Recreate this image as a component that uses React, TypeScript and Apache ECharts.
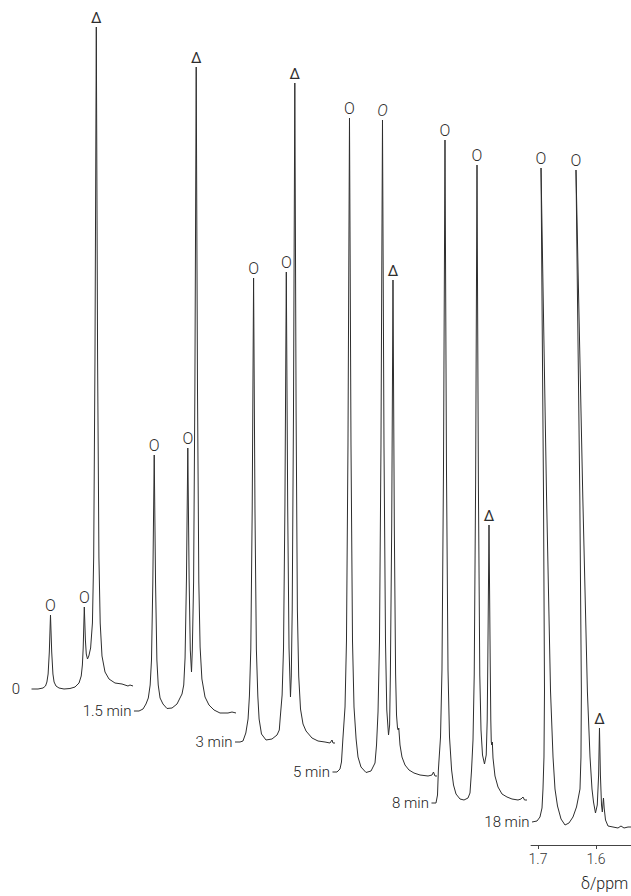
import React, { useEffect, useRef } from 'react';
import * as echarts from 'echarts';

// Reaction time of each stacked 1H NMR trace
const traceNames = ['0', '1.5 min', '3 min', '5 min', '8 min', '18 min'];

// Each trace: [chemical shift δ/ppm, intensity (a.u.)]
const trace0: number[][] = [
  [1.7241, 0], [1.7129, 0], [1.7043, 1], [1.7, 3], [1.6976, 7], [1.6955, 15], [1.6934, 37], [1.6914, 74],
  [1.6893, 37], [1.6872, 15], [1.6852, 7], [1.6819, 3], [1.6767, 1], [1.6681, 0], [1.6578, 0.5], [1.6491, 2],
  [1.6422, 6], [1.6384, 13], [1.6364, 24], [1.635, 41], [1.6331, 82], [1.6312, 49], [1.6297, 35], [1.6276, 30],
  [1.6253, 33], [1.6222, 41], [1.6191, 66], [1.6169, 132], [1.6147, 331], [1.6124, 662], [1.6102, 331],
  [1.6079, 132], [1.6057, 66], [1.6026, 33], [1.5974, 17], [1.5905, 10], [1.5802, 6], [1.5681, 5], [1.5578, 3],
  [1.5543, 4], [1.5491, 3],
];

const trace15: number[][] = [
  [1.7259, 0], [1.7172, 0], [1.7103, 2], [1.7052, 7], [1.7012, 13], [1.698, 26], [1.6957, 51], [1.6934, 128],
  [1.691, 256], [1.6887, 128], [1.6864, 51], [1.6841, 26], [1.6809, 13], [1.6759, 7], [1.669, 2.5], [1.6603, 3],
  [1.6517, 7], [1.6457, 14], [1.6431, 17], [1.6401, 26], [1.6378, 53], [1.6354, 132], [1.6331, 263],
  [1.6308, 132], [1.6288, 61], [1.6267, 39], [1.6253, 61], [1.6231, 129], [1.6209, 322], [1.6186, 644],
  [1.6164, 322], [1.6141, 129], [1.6119, 64], [1.6088, 32], [1.6034, 14], [1.5966, 6], [1.5879, 1],
  [1.5776, -2], [1.5638, -2], [1.5569, -1], [1.55, -2],
];

const trace3: number[][] = [
  [1.7234, 0], [1.7148, 0], [1.7097, 1], [1.7048, 9], [1.7009, 23], [1.6986, 46], [1.6962, 93], [1.6938, 232],
  [1.6914, 464], [1.689, 232], [1.6866, 93], [1.6841, 46], [1.6819, 23], [1.6778, 8], [1.67, 2], [1.6597, 3],
  [1.651, 7], [1.6471, 12], [1.6455, 24], [1.6422, 47], [1.6398, 94], [1.6374, 235], [1.635, 470],
  [1.6326, 235], [1.6303, 94], [1.6278, 45], [1.6264, 66], [1.6248, 132], [1.6226, 330], [1.6203, 659],
  [1.6181, 330], [1.6159, 132], [1.6136, 66], [1.6105, 33], [1.6062, 18], [1.601, 11], [1.5907, 4],
  [1.5803, 1], [1.5683, 0], [1.5597, -1], [1.5562, 2], [1.5545, -1], [1.551, -1],
];

const trace5: number[][] = [
  [1.7207, 0], [1.7129, 0], [1.7078, 3], [1.7052, 10], [1.7028, 33], [1.6991, 65], [1.6966, 131], [1.694, 327],
  [1.6914, 654], [1.6888, 327], [1.6862, 131], [1.6836, 65], [1.68, 33], [1.6767, 15], [1.6716, 5],
  [1.6629, -0.5], [1.6543, 1], [1.6474, 9], [1.6448, 27], [1.6422, 60], [1.6397, 130], [1.6371, 326],
  [1.6345, 652], [1.6319, 326], [1.6293, 130], [1.6271, 62], [1.6241, 37], [1.6222, 47], [1.6209, 98],
  [1.6186, 246], [1.6164, 492], [1.6141, 246], [1.6119, 98], [1.6103, 57], [1.6086, 44], [1.6074, 42],
  [1.6064, 44], [1.6043, 27], [1.6009, 15], [1.5957, 7], [1.5888, 2], [1.5802, -1], [1.5698, -3],
  [1.556, -4], [1.5491, -3], [1.5466, 0], [1.544, -4], [1.5405, -4],
];

const trace8: number[][] = [
  [1.7147, 0], [1.7069, 0], [1.7043, 8], [1.7028, 33], [1.6991, 66], [1.6966, 133], [1.694, 332], [1.6914, 663],
  [1.6888, 332], [1.6862, 133], [1.6836, 66], [1.68, 33], [1.6767, 18], [1.6724, 9], [1.6655, 4], [1.6586, 3],
  [1.6517, 5], [1.6483, 10], [1.6457, 32], [1.6431, 63], [1.641, 128], [1.6386, 319], [1.6362, 638],
  [1.6338, 319], [1.6314, 128], [1.6293, 73], [1.6267, 48], [1.6233, 39], [1.6203, 48], [1.6186, 83],
  [1.6176, 139], [1.6155, 278], [1.6134, 139], [1.6124, 83], [1.6116, 61], [1.6107, 58], [1.6098, 61],
  [1.6086, 45], [1.6052, 27], [1.6, 16], [1.5931, 9], [1.5845, 6], [1.5759, 4], [1.5655, 3], [1.5603, 4],
  [1.5569, 6], [1.5543, 3], [1.55, 3],
];

const trace18: number[][] = [
  [1.7103, 0], [1.7017, 1], [1.6966, 5], [1.6931, 14], [1.6914, 33], [1.6897, 65], [1.6888, 131], [1.6905, 327],
  [1.6948, 654], [1.6853, 327], [1.6784, 131], [1.6741, 65], [1.6707, 33], [1.6664, 16], [1.6603, 3],
  [1.6534, -3], [1.6466, -1], [1.6397, 5], [1.6336, 15], [1.6302, 25], [1.6276, 33], [1.6259, 65],
  [1.6252, 130], [1.6279, 326], [1.6345, 652], [1.6228, 326], [1.6148, 130], [1.6103, 65], [1.6069, 33],
  [1.6043, 20], [1.6009, 9], [1.5978, 17], [1.5955, 47], [1.594, 94], [1.5924, 47], [1.5905, 17],
  [1.5891, 10], [1.5879, 19], [1.5871, 24], [1.5859, 14], [1.5836, 2], [1.5793, -4], [1.5707, -5],
  [1.5621, -6], [1.5569, -4], [1.5517, -6], [1.5448, -5], [1.5397, -5],
];

// Peak assignment marks (left to right) for each trace
const peakSymbols: string[][] = [
  ['O', 'O', 'Δ'], ['O', 'O', 'Δ'], ['O', 'O', 'Δ'], ['O', 'O', 'Δ'], ['O', 'O', 'Δ'], ['O', 'O', 'Δ'],
];
const italicPeaks: boolean[][] = [
  [false, false, false], [false, false, false], [false, false, false],
  [false, true, false], [false, false, false], [false, false, false],
];

// Axis tick labels (ppm)
const tickValues = [1.7, 1.6];

// ---- layout (pixels) ----
const traces = [trace0, trace15, trace3, trace5, trace8, trace18];
const x17 = [45.5, 149, 248.6, 344.5, 440, 538]; // pixel x of 1.70 ppm per trace
const baseY = [689, 711, 742, 772, 803, 822]; // pixel y of zero intensity per trace
const PX_PER_PPM = 580;
const FONT = 'Roboto, "Liberation Sans", Arial, sans-serif';
const INK = '#2e2e2e';

function peakTops(data: number[][]): number[][] {
  const out: number[][] = [];
  for (let i = 1; i < data.length - 1; i++) {
    const y = data[i][1];
    if (y > 65 && y > data[i - 1][1] && y > data[i + 1][1]) out.push(data[i]);
  }
  return out;
}

export default function App() {
  const ref = useRef<HTMLDivElement>(null);

  useEffect(() => {
    if (!ref.current) return;
    const chart = echarts.init(ref.current, undefined, { renderer: 'svg' });

    const grids: any[] = [];
    const xAxes: any[] = [];
    const yAxes: any[] = [];
    const series: any[] = [];

    traces.forEach((data, k) => {
      const last = k === traces.length - 1;
      const xMax = last ? 1.712 : 1.73;
      const xMin = last ? 1.54 : 1.53;
      grids.push({
        left: x17[k] - (xMax - 1.7) * PX_PER_PPM,
        width: (xMax - xMin) * PX_PER_PPM,
        top: baseY[k] - 680,
        height: 700,
        containLabel: false,
      });
      xAxes.push({
        gridIndex: k,
        type: 'value',
        min: xMin,
        max: xMax,
        inverse: true,
        show: last,
        offset: 3,
        axisLine: { show: true, onZero: false, lineStyle: { color: '#444', width: 1 } },
        axisTick: { show: true, customValues: tickValues, length: 4, lineStyle: { color: '#444', width: 1 } },
        axisLabel: {
          show: true,
          customValues: tickValues,
          formatter: (v: number) => v.toFixed(1),
          fontSize: 14,
          fontFamily: FONT,
          fontWeight: 300,
          color: '#333',
          margin: 7,
        },
        splitLine: { show: false },
      });
      yAxes.push({ gridIndex: k, type: 'value', min: -20, max: 680, show: false, splitLine: { show: false } });

      const tops = peakTops(data);
      const markData: any[] = tops.map((p, j) => ({
        coord: p,
        label: {
          show: true,
          position: 'top',
          distance: 1,
          formatter: peakSymbols[k][j],
          fontSize: peakSymbols[k][j] === 'Δ' ? 15 : 16,
          fontFamily: FONT,
          fontWeight: peakSymbols[k][j] === 'Δ' ? 400 : 300,
          fontStyle: italicPeaks[k][j] ? 'italic' : 'normal',
          color: INK,
        },
      }));
      markData.push({
        coord: data[0],
        label: {
          show: true,
          position: 'left',
          distance: k === 0 ? 11 : 2,
          formatter: traceNames[k],
          fontSize: 15,
          fontFamily: FONT,
          fontWeight: 300,
          color: '#222',
        },
      });

      series.push({
        type: 'line',
        xAxisIndex: k,
        yAxisIndex: k,
        data,
        symbol: 'none',
        smooth: false,
        clip: false,
        silent: true,
        lineStyle: { color: INK, width: 1 },
        markPoint: {
          symbol: 'circle',
          symbolSize: 1,
          silent: true,
          itemStyle: { color: 'rgba(0,0,0,0)' },
          data: markData,
        },
      });
    });

    chart.setOption({
      animation: false,
      backgroundColor: '#fff',
      grid: grids,
      xAxis: xAxes,
      yAxis: yAxes,
      series,
      graphic: [
        {
          type: 'text',
          left: 581,
          top: 875,
          style: { text: 'δ/ppm', fontSize: 16, fontFamily: FONT, fontWeight: 300, fill: '#222' },
        },
      ],
    });

    return () => chart.dispose();
  }, []);

  return <div ref={ref} style={{ position: 'absolute', left: 0, top: 0, width: 631, height: 896 }} />;
}
